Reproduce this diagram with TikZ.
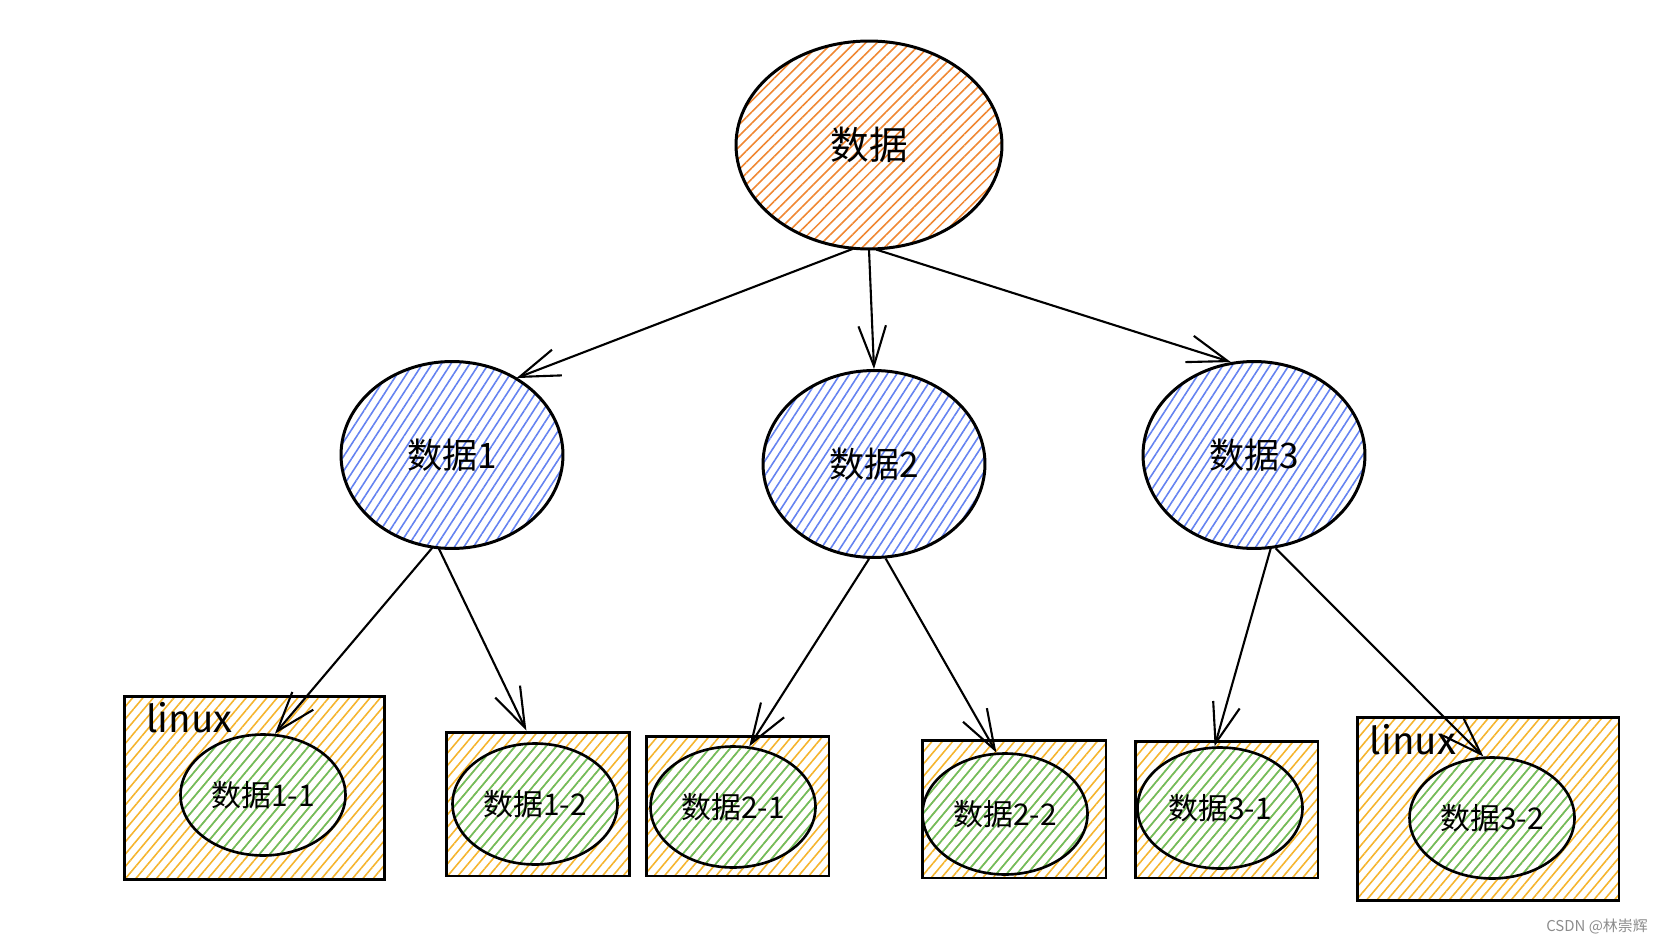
\documentclass[tikz,border=0pt]{standalone}
\usepackage{fontspec}
\usepackage{tikz}
\usetikzlibrary{arrows.meta, positioning, shapes.geometric, patterns.meta}
\newfontfamily\cjk{Noto Sans CJK SC}
\newfontfamily\hand{Fira Sans}
\definecolor{croot}{RGB}{240,135,50}
\definecolor{cmid}{RGB}{100,130,240}
\definecolor{cbox}{RGB}{245,180,45}
\definecolor{cleaf}{RGB}{105,190,100}

\begin{document}
\begin{tikzpicture}[
  x=0.02cm, y=-0.02cm,
  font=\cjk,
  hatch/.style={pattern={Lines[angle=#1, distance=4.5pt, line width=0.9pt]}},
  root/.style={ellipse, draw, line width=1.7pt, inner sep=0pt,
    minimum width=5.32cm, minimum height=4.16cm, hatch=45, pattern color=croot,
    font=\cjk\fontsize{22}{24}\selectfont},
  mid/.style={ellipse, draw, line width=1.7pt, inner sep=0pt,
    minimum width=4.44cm, minimum height=3.74cm, hatch=57, pattern color=cmid,
    font=\cjk\fontsize{20}{22}\selectfont},
  host/.style={draw, line width=1.7pt, inner sep=0pt, hatch=50, pattern color=cbox},
  leaf/.style={ellipse, draw, line width=1.5pt, inner sep=0pt,
    minimum width=3.3cm, minimum height=2.42cm, hatch=50, pattern color=cleaf,
    font=\cjk\fontsize{17}{19}\selectfont},
  oslab/.style={font=\hand\fontsize{22}{24}\selectfont, inner sep=0pt},
  link/.style={line width=1.2pt, -{Straight Barb[length=8mm, width=5.5mm]}},
]
\useasboundingbox (0,0) rectangle (1662,942);

\node[root] (top) at (869,145) {数据};
\node[mid] (d1) at (452,455) {数据1};
\node[mid] (d2) at (874,464) {数据2};
\node[mid] (d3) at (1254,455) {数据3};

\node[host, minimum width=5.22cm, minimum height=3.68cm] (b11) at (254.5,788) {};
\node[host, minimum width=3.68cm, minimum height=2.88cm] (b12) at (538,804) {};
\node[host, minimum width=3.66cm, minimum height=2.80cm] (b21) at (737.5,806) {};
\node[host, minimum width=3.68cm, minimum height=2.76cm] (b22) at (1014,809) {};
\node[host, minimum width=3.66cm, minimum height=2.74cm] (b31) at (1226.5,809.5) {};
\node[host, minimum width=5.24cm, minimum height=3.68cm] (b32) at (1488,809) {};

\node[oslab, below right=4pt and 13pt of b11.north west] (os1) {linux};
\node[oslab, below right=5pt and 8pt of b32.north west] (os2) {linux};

\node[leaf] (e11) at (263,795) {数据1-1};
\node[leaf] (e12) at (535,804) {数据1-2};
\node[leaf] (e21) at (733,807) {数据2-1};
\node[leaf] (e22) at (1005,814) {数据2-2};
\node[leaf] (e31) at (1220,808) {数据3-1};
\node[leaf] (e32) at (1492,818) {数据3-2};

\draw[link] (top.261) -- (d1.50);
\draw[link] (top.270) -- (d2.north);
\draw[link] (top.274) -- (d3.104);
\draw[link] (d1.258) -- (e11.79);
\draw[link] (d1.262) -- (b12.99);
\draw[link] (d2.267) -- (e21.75);
\draw[link] (d2.277) -- (e22.98);
\draw[link] (d3.280) -- (e31.95);
\draw[link] (d3.283) -- (e32.98);

\node[font=\cjk\fontsize{8.5}{10}\selectfont, text=black!45] (mark) at (1597,927) {CSDN @林崇辉};
\end{tikzpicture}
\end{document}
